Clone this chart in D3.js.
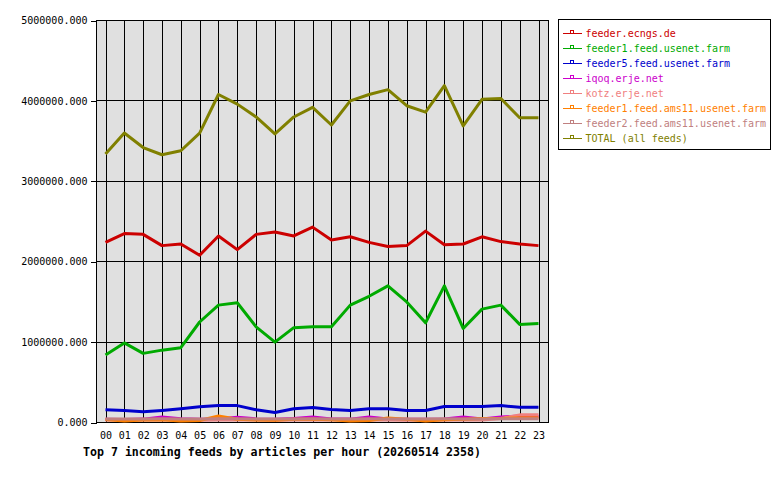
<!DOCTYPE html>
<html>
<head>
<meta charset="utf-8">
<script src="https://cdn.jsdelivr.net/npm/d3@7"></script>
<style>
  body { margin: 0; background: #fff; }
  text { font-family: "DejaVu Sans Mono", monospace; }
</style>
</head>
<body>
<svg id="chart" width="780" height="480"></svg>
<script>
// hours on the x axis
const hours = ['00','01','02','03','04','05','06','07','08','09','10','11',
               '12','13','14','15','16','17','18','19','20','21','22','23'];

// articles per hour, one array per feed
const ecngs = [2240000,2350000,2340000,2200000,2220000,2080000,2320000,2150000,2340000,2370000,2320000,2430000,
               2270000,2310000,2240000,2190000,2200000,2380000,2210000,2220000,2310000,2250000,2220000,2200000];
const feed1 = [840000,990000,860000,900000,930000,1250000,1460000,1490000,1190000,1000000,1180000,1190000,
               1190000,1460000,1570000,1700000,1500000,1240000,1700000,1170000,1410000,1460000,1220000,1230000];
const feed5 = [158000,150000,133000,150000,170000,195000,210000,210000,158000,124000,170000,187000,
               162000,150000,172000,170000,150000,150000,199000,199000,199000,210000,190000,190000];
const iqoq  = [40000,38000,42000,68000,48000,40000,45000,65000,45000,40000,50000,70000,
               45000,42000,70000,45000,40000,40000,45000,70000,45000,68000,80000,75000];
const kotz  = [30000,28000,30000,35000,30000,28000,30000,32000,30000,28000,30000,32000,
               30000,30000,32000,30000,28000,30000,30000,32000,30000,50000,95000,95000];
const ams1  = [38000,20000,30000,35000,20000,25000,80000,40000,30000,28000,40000,40000,
               35000,20000,25000,55000,40000,20000,35000,40000,50000,50000,60000,60000];
const ams2  = [45000,45000,44000,46000,45000,44000,46000,47000,45000,44000,45000,46000,
               45000,44000,46000,45000,44000,45000,46000,45000,45000,46000,47000,47000];
const total = [3340000,3600000,3420000,3330000,3380000,3600000,4080000,3960000,3800000,3590000,3800000,3920000,
               3700000,4000000,4080000,4140000,3940000,3860000,4190000,3690000,4020000,4030000,3790000,3790000];

const feedNames = ['feeder.ecngs.de','feeder1.feed.usenet.farm','feeder5.feed.usenet.farm','iqoq.erje.net',
                   'kotz.erje.net','feeder1.feed.ams11.usenet.farm','feeder2.feed.ams11.usenet.farm','TOTAL (all feeds)'];
const feedValues = [ecngs, feed1, feed5, iqoq, kotz, ams1, ams2, total];
const yTicks = [0, 1000000, 2000000, 3000000, 4000000, 5000000];

const colors = ['#cc0000','#00aa00','#0000cc','#cc00cc','#f08080','#ff8000','#c08080','#808000'];

const svg = d3.select('#chart');

// plot frame
const frame = { left: 96.5, right: 548.5, top: 20.5, bottom: 422.5 };

const xScale = d3.scaleLinear().domain([0, 23]).range([105.5, 538.5]);
const yScale = d3.scaleLinear().domain([0, 5000000]).range([frame.bottom, frame.top]);

svg.append('rect')
  .attr('x', frame.left).attr('y', frame.top)
  .attr('width', frame.right - frame.left).attr('height', frame.bottom - frame.top)
  .attr('fill', '#e0e0e0');

// vertical grid + hour labels
const xAxis = svg.append('g')
  .attr('transform', `translate(0, ${frame.bottom})`)
  .call(d3.axisBottom(xScale)
    .tickValues(d3.range(hours.length))
    .tickFormat((i) => hours[i])
    .tickSize(-(frame.bottom - frame.top))
    .tickSizeOuter(0)
    .tickPadding(9));
xAxis.select('.domain').remove();
xAxis.selectAll('line').attr('stroke', '#000').attr('shape-rendering', 'crispEdges');
xAxis.selectAll('text').attr('font-size', 10).attr('fill', '#000')
  .style('font-family', '"DejaVu Sans Mono", monospace');

// horizontal grid + value labels
const yAxis = svg.append('g')
  .attr('transform', `translate(${frame.left}, 0)`)
  .call(d3.axisLeft(yScale)
    .tickValues(yTicks)
    .tickFormat(d3.format('.3f'))
    .tickSize(6)
    .tickSizeOuter(0)
    .tickPadding(3));
yAxis.select('.domain').remove();
yAxis.selectAll('line').attr('stroke', '#000').attr('shape-rendering', 'crispEdges');
yAxis.selectAll('text').attr('font-size', 10).attr('fill', '#000')
  .style('font-family', '"DejaVu Sans Mono", monospace');

svg.append('g')
  .selectAll('line')
  .data(yTicks)
  .enter()
  .append('line')
  .attr('x1', frame.left).attr('x2', frame.right)
  .attr('y1', (d) => yScale(d)).attr('y2', (d) => yScale(d))
  .attr('stroke', '#000')
  .attr('shape-rendering', 'crispEdges');

svg.append('rect')
  .attr('x', frame.left).attr('y', frame.top)
  .attr('width', frame.right - frame.left).attr('height', frame.bottom - frame.top)
  .attr('fill', 'none').attr('stroke', '#000')
  .attr('shape-rendering', 'crispEdges');

// series lines
const line = d3.line()
  .x((d, i) => xScale(i))
  .y((d) => yScale(d));

svg.append('g')
  .selectAll('path')
  .data(feedValues)
  .enter()
  .append('path')
  .attr('d', (d) => line(d))
  .attr('fill', 'none')
  .attr('stroke', (d, i) => colors[i])
  .attr('stroke-width', 3)
  .attr('stroke-linejoin', 'round');

// title
svg.append('text')
  .attr('x', 83)
  .attr('y', 456)
  .attr('font-size', 11.6)
  .attr('font-weight', 'bold')
  .text('Top 7 incoming feeds by articles per hour (20260514 2358)');

// legend
const legendBox = svg.append('g').attr('transform', 'translate(558.5, 19.5)');
legendBox.append('rect')
  .attr('width', 212).attr('height', 130)
  .attr('fill', '#fff').attr('stroke', '#000')
  .attr('shape-rendering', 'crispEdges');

const legend = legendBox
  .selectAll('.legend')
  .data(feedNames)
  .enter()
  .append('g')
  .attr('transform', (_, i) => `translate(0, ${14 + i * 15})`);

legend.append('line')
  .attr('x1', 4).attr('x2', 23).attr('y1', 0).attr('y2', 0)
  .attr('stroke', (d, i) => colors[i])
  .attr('shape-rendering', 'crispEdges');

legend.append('rect')
  .attr('x', 12).attr('y', -3).attr('width', 3).attr('height', 3)
  .attr('fill', 'none')
  .attr('stroke', (d, i) => colors[i])
  .attr('shape-rendering', 'crispEdges');

legend.append('text')
  .attr('x', 27)
  .attr('y', 3.5)
  .attr('font-size', 10)
  .attr('fill', (d, i) => colors[i])
  .text((d) => d);
</script>
</body>
</html>
